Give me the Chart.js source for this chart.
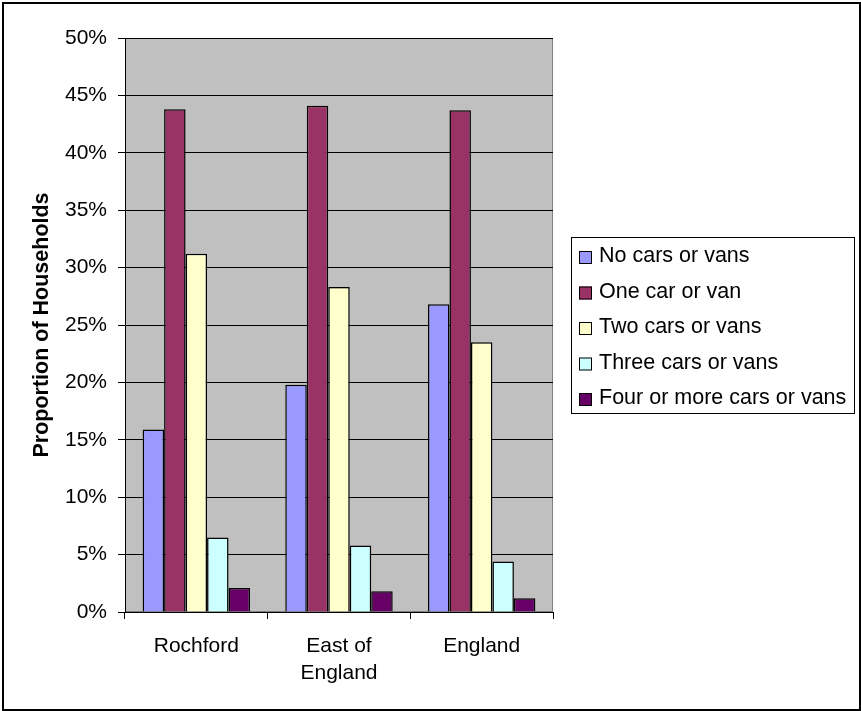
<!DOCTYPE html>
<html>
<head>
<meta charset="utf-8">
<script src="https://cdn.jsdelivr.net/npm/chart.js@4"></script>
<style>
  html, body { margin: 0; padding: 0; background: #ffffff; }
  #wrap { width: 861px; height: 711px; position: relative; }
</style>
</head>
<body>
<div id="wrap"><canvas id="chart" width="861" height="711"></canvas></div>
<script>
// Household car/van availability by area (percent of households)
const categories = ['Rochford', ['East of', 'England'], 'England'];
const seriesNames = ['No cars or vans', 'One car or van', 'Two cars or vans', 'Three cars or vans', 'Four or more cars or vans'];
const noCars    = [15.9, 19.8, 26.8];
const oneCar    = [43.8, 44.1, 43.7];
const twoCars   = [31.2, 28.3, 23.5];
const threeCars = [6.5, 5.8, 4.4];
const fourCars  = [2.1, 1.8, 1.2];
const yTickLabels = ['0%', '5%', '10%', '15%', '20%', '25%', '30%', '35%', '40%', '45%', '50%'];

const seriesValues = [noCars, oneCar, twoCars, threeCars, fourCars];
const seriesColors = ['#9999FF', '#993366', '#FFFFCC', '#CCFFFF', '#660066'];

const FONT = '"Liberation Sans", Arial, sans-serif';

// Grey plot background, chart frame and boxed legend
const frameAndLegend = {
  id: 'frameAndLegend',
  beforeDraw(chart) {
    const { ctx, chartArea: a } = chart;
    ctx.save();
    ctx.fillStyle = '#ffffff';
    ctx.fillRect(0, 0, chart.width, chart.height);
    ctx.fillStyle = '#C0C0C0';
    ctx.fillRect(a.left, a.top, a.right - a.left, a.bottom - a.top);
    ctx.strokeStyle = '#808080';
    ctx.lineWidth = 1;
    ctx.strokeRect(a.left + 0.5, a.top + 0.5, a.right - a.left - 1, a.bottom - a.top - 1);
    ctx.restore();
  },
  afterDraw(chart) {
    const { ctx } = chart;
    ctx.save();
    // outer frame
    ctx.strokeStyle = '#000000';
    ctx.lineWidth = 2;
    ctx.strokeRect(3, 3, 857, 707);
    // legend box
    const lx = 571, ly = 237, lw = 283, lh = 176;
    ctx.lineWidth = 1;
    ctx.strokeRect(lx + 0.5, ly + 0.5, lw, lh);
    ctx.font = '21.5px ' + FONT;
    ctx.textAlign = 'left';
    ctx.textBaseline = 'alphabetic';
    chart.data.datasets.forEach((ds, i) => {
      const cy = 251 + i * 35.5;
      ctx.fillStyle = ds.backgroundColor;
      ctx.fillRect(579, cy, 13, 13);
      ctx.strokeStyle = '#000000';
      ctx.strokeRect(579.5, cy + 0.5, 12, 12);
      ctx.fillStyle = '#000000';
      ctx.fillText(ds.label, 599, 262 + i * 35.5);
    });
    ctx.restore();
  }
};

const datasets = seriesNames.map((name, i) => ({
  label: name,
  data: seriesValues[i],
  backgroundColor: seriesColors[i],
  borderColor: '#000000',
  borderWidth: 1.5,
  categoryPercentage: 0.753,
  barPercentage: 1.0
}));

new Chart(document.getElementById('chart'), {
  type: 'bar',
  data: { labels: categories, datasets },
  plugins: [frameAndLegend],
  options: {
    responsive: false,
    animation: false,
    devicePixelRatio: 1,
    layout: { padding: { top: 38, right: 308, bottom: 0, left: 0 } },
    plugins: {
      legend: { display: false },
      tooltip: { enabled: false }
    },
    scales: {
      x: {
        offset: true,
        grid: { display: true, drawOnChartArea: false, drawTicks: true, tickLength: 7, color: '#000000', offset: true },
        border: { display: true, color: '#000000', width: 1 },
        ticks: { color: '#000000', font: { family: FONT, size: 21, lineHeight: 1.28 }, padding: 14, maxRotation: 0, autoSkip: false },
        afterFit(scale) { scale.height = 99; }
      },
      y: {
        min: 0,
        max: 50,
        ticks: {
          stepSize: 5,
          color: '#000000',
          font: { family: FONT, size: 21 },
          padding: 11,
          callback: (v) => yTickLabels[Math.round(v / 5)]
        },
        grid: { color: '#000000', lineWidth: 1, tickLength: 7, tickColor: '#000000' },
        border: { display: true, color: '#000000', width: 1 },
        title: {
          display: true,
          text: 'Proportion of Households',
          color: '#000000',
          font: { family: FONT, size: 21.5, weight: 'bold' },
          padding: { top: 29, bottom: 0 }
        },
        afterFit(scale) { scale.width = 125; }
      }
    }
  }
});
</script>
</body>
</html>
